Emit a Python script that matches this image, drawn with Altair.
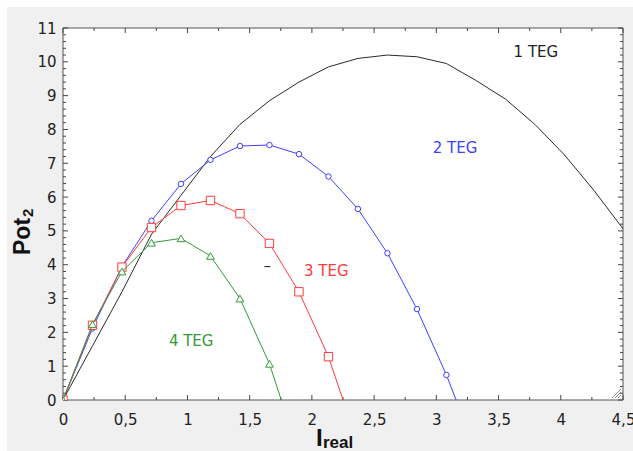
import altair as alt
import pandas as pd

# Current values (A) at which the power curves were evaluated
I_real = [0, 0.237, 0.474, 0.711, 0.948, 1.185, 1.422, 1.659, 1.896, 2.133,
          2.370, 2.607, 2.844, 3.081, 3.318, 3.555, 3.792, 4.029, 4.266, 4.503]

# Output power (W) for 1, 2, 3 and 4 TEG modules
pot_1teg = [0, 1.6, 3.2, 4.9, 6.05, 7.2, 8.15, 8.85, 9.4, 9.85,
            10.1, 10.2, 10.15, 9.95, 9.45, 8.9, 8.15, 7.25, 6.2, 5.05]
pot_2teg = [0, 2.12, 3.95, 5.3, 6.39, 7.1, 7.51, 7.54, 7.27, 6.61,
            5.65, 4.34, 2.69, 0.74, -1.5]
pot_3teg = [0, 2.21, 3.93, 5.1, 5.75, 5.9, 5.51, 4.63, 3.2, 1.28, -1.3]
pot_4teg = [0, 2.24, 3.8, 4.65, 4.78, 4.26, 3.0, 1.07, -1.6]

# Curve annotations
label_text = ["1 TEG", "2 TEG", "3 TEG", "4 TEG", "\u2013"]
label_x = [3.80, 3.15, 2.116, 1.03, 1.642]
label_y = [10.29, 7.44, 3.81, 1.75, 3.97]
label_color = ["#222222", "#4040ff", "#ff3b3b", "#35993a", "#333333"]

# Axis tick values
x_major = [0, 0.5, 1, 1.5, 2, 2.5, 3, 3.5, 4, 4.5]
x_minor = [0.25, 0.75, 1.25, 1.75, 2.25, 2.75, 3.25, 3.75, 4.25]
y_major = list(range(0, 12))
y_minor = [round(i * 0.2, 1) for i in range(0, 56) if i % 5 != 0]

W, H = 560, 372
TICK = "#444444"
LABEL_FONT = "DejaVu Sans"
TITLE_FONT = "Liberation Sans"

xs = alt.Scale(domain=[0, 4.5], nice=False, zero=False)
ys = alt.Scale(domain=[0, 11], nice=False, zero=False)

x_axis = alt.Axis(values=x_major, title=None, ticks=False, domain=False, grid=False,
                  labelExpr="replace(format(datum.value, '~g'), '.', ',')",
                  labelFont=LABEL_FONT, labelFontSize=15, labelColor="#222222",
                  labelPadding=12, labelFlush=False, labelOverlap=False, zindex=1)
y_axis = alt.Axis(values=y_major, title=None, ticks=False, domain=False, grid=False,
                  format="d", labelFont=LABEL_FONT, labelFontSize=15,
                  labelColor="#222222", labelPadding=7, labelOverlap=False, zindex=1)

one = pd.DataFrame({"k": [0]})

# Frame: grey panel and white plotting area with border
panel = alt.Chart(one).mark_rect(color="#f0f0f0").encode(
    x=alt.value(-56), x2=alt.value(570), y=alt.value(-21), y2=alt.value(423))
plot_bg = alt.Chart(one).mark_rect(fill="white", stroke="#555555", strokeWidth=1).encode(
    x=alt.value(0), x2=alt.value(W), y=alt.value(0), y2=alt.value(H))


def x_ticks(values, length):
    df = pd.DataFrame({"v": values})
    bottom = alt.Chart(df).mark_rule(color=TICK, strokeWidth=1).encode(
        x=alt.X("v:Q", scale=xs, axis=x_axis), y=alt.value(H), y2=alt.value(H - length))
    top = alt.Chart(df).mark_rule(color=TICK, strokeWidth=1).encode(
        x=alt.X("v:Q", scale=xs, axis=x_axis), y=alt.value(0), y2=alt.value(length))
    return [bottom, top]


def y_ticks(values, length):
    df = pd.DataFrame({"v": values})
    left = alt.Chart(df).mark_rule(color=TICK, strokeWidth=1).encode(
        y=alt.Y("v:Q", scale=ys, axis=y_axis), x=alt.value(0), x2=alt.value(length))
    right = alt.Chart(df).mark_rule(color=TICK, strokeWidth=1).encode(
        y=alt.Y("v:Q", scale=ys, axis=y_axis), x=alt.value(W), x2=alt.value(W - length))
    return [left, right]


tick_layers = x_ticks(x_major, 5) + x_ticks(x_minor, 3) + y_ticks(y_major, 5) + y_ticks(y_minor, 3)

# Resize grip in the lower right corner
grip = pd.DataFrame({"gx": [549, 552, 555, 558], "gy": [370, 370, 370, 370],
                     "gx2": [558, 558, 558, 558], "gy2": [361, 364, 367, 370]})
grip_layer = alt.Chart(grip).mark_rule(color="#8c8c8c", strokeWidth=1).encode(
    x=alt.X("gx:Q", scale=None), x2="gx2:Q",
    y=alt.Y("gy:Q", scale=None), y2="gy2:Q")


def series(values, color, shape=None, size=None):
    df = pd.DataFrame({"I": I_real[:len(values)], "P": values})
    enc = dict(x=alt.X("I:Q", scale=xs, axis=x_axis), y=alt.Y("P:Q", scale=ys, axis=y_axis))
    line = alt.Chart(df).mark_line(color=color, strokeWidth=1, clip=True).encode(**enc)
    if shape is None:
        return [line]
    pts = alt.Chart(df).mark_point(shape=shape, size=size, color=color, fill="white",
                                   filled=True, stroke=color, strokeWidth=1,
                                   opacity=1, clip=True).encode(**enc)
    return [line, pts]


curve_layers = (series(pot_1teg, "#2a2a2a")
                + series(pot_2teg, "#4040ff", "circle", 30)
                + series(pot_3teg, "#ff3b3b", "square", 70)
                + series(pot_4teg, "#35993a", "triangle-up", 60))

labels = pd.DataFrame({"t": label_text, "lx": label_x, "ly": label_y, "c": label_color})
label_layer = alt.Chart(labels).mark_text(font=LABEL_FONT, fontSize=15, align="center",
                                          baseline="middle").encode(
    x=alt.X("lx:Q", scale=xs, axis=x_axis), y=alt.Y("ly:Q", scale=ys, axis=y_axis),
    text="t:N", color=alt.Color("c:N", scale=None))

# Axis titles with subscripts
title_kw = dict(font=TITLE_FONT, fontWeight="bold", color="#111111")
y_title = alt.Chart(one).mark_text(text="Pot", fontSize=23, angle=270, align="left",
                                   baseline="alphabetic", **title_kw).encode(
    x=alt.value(-33), y=alt.value(227))
y_sub = alt.Chart(one).mark_text(text="2", fontSize=15, angle=270, align="left",
                                 baseline="alphabetic", **title_kw).encode(
    x=alt.value(-30), y=alt.value(189))
x_title = alt.Chart(one).mark_text(text="I", fontSize=24, align="left",
                                   baseline="alphabetic", **title_kw).encode(
    x=alt.value(253), y=alt.value(418))
x_sub = alt.Chart(one).mark_text(text="real", fontSize=17, align="left",
                                 baseline="alphabetic", **title_kw).encode(
    x=alt.value(260), y=alt.value(420))

chart = alt.layer(
    panel, plot_bg, *tick_layers, grip_layer, *curve_layers, label_layer,
    y_title, y_sub, x_title, x_sub
).properties(
    width=W, height=H,
    autosize=alt.AutoSizeParams(type="none"),
    padding={"left": 63, "top": 28, "right": 10, "bottom": 51},
    background="white",
).configure_view(stroke=None)

chart.save("out.html", embed_options={"renderer": "svg", "actions": False})
